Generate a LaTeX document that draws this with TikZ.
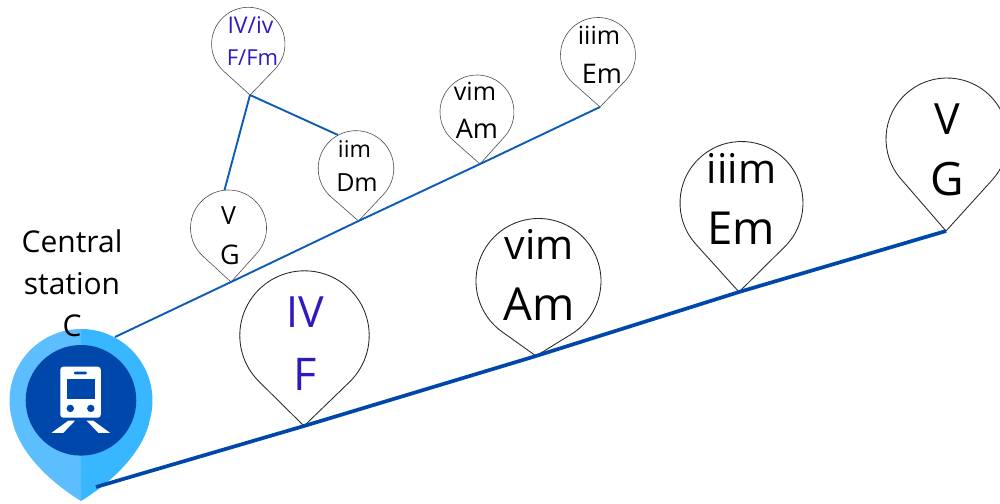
\documentclass[tikz,border=0pt]{standalone}
\usepackage{fontspec}
\setmainfont{Open Sans}
\usetikzlibrary{calc}
\definecolor{linkblue}{HTML}{0B5CB5}
\definecolor{mainblue}{HTML}{0047AB}
\definecolor{pinleft}{HTML}{5CBDFF}
\definecolor{pinright}{HTML}{38B6FF}
\definecolor{chordblue}{HTML}{2E1BC0}
\newcommand{\pinshape}[7][pinsmall]{% style, name, cx, cy, r, tipx, tipy
  \coordinate (#2c) at (#3,#4);
  \coordinate (#2t) at (#6,#7);
  \pgfmathsetmacro{\pinbase}{atan2(#7-#4,#6-#3)}
  \pgfmathsetmacro{\pinhalf}{acos(#5/sqrt((#7-#4)*(#7-#4)+(#6-#3)*(#6-#3)))}
  \pgfmathsetmacro{\pinfrom}{\pinbase+\pinhalf}
  \pgfmathsetmacro{\pinto}{\pinbase-\pinhalf+360}
  \draw[#1] (#2t) -- ($(#2c)+(\pinfrom:#5)$) arc (\pinfrom:\pinto:#5) -- cycle;
}
\newcommand{\lbl}[5][black]{% colour, name, x, baseline y, size+text
  \node[lab,text=#1] (#2) at (#3,#4) {#5};
}
\tikzset{
  pinsmall/.style={draw=black!70,line width=0.6pt},
  pinbig/.style={draw=black!85,line width=0.85pt},
  lab/.style={anchor=base,inner sep=0pt,outer sep=0pt},
  thinlink/.style={draw=linkblue,line width=1.9pt},
  thicklink/.style={draw=mainblue,line width=3.7pt},
}
\newcommand{\sizetxt}[1]{\fontsize{#1}{#1}\selectfont}
\begin{document}
\begin{tikzpicture}[x=1pt,y=-1pt]
\useasboundingbox (0,0) rectangle (1000,503);
% pins
\pinshape{a}{248.3}{44}{36.7}{250}{95}
\pinshape{b}{228.5}{228}{38}{231}{282}
\pinshape{d}{356}{168.5}{37.8}{358.5}{221}
\pinshape{e}{477}{112}{37}{480}{164}
\pinshape{f}{598}{55}{37.5}{600}{107}
\pinshape[pinbig]{g}{304.5}{335.5}{64.7}{304}{426}
\pinshape[pinbig]{h}{538.5}{281}{62.5}{536}{356}
\pinshape[pinbig]{i}{741.5}{203}{61.5}{739}{292}
\pinshape[pinbig]{j}{947}{139}{61}{946}{231}
% connector anchors
\coordinate (startthin) at (115,337);
\coordinate (startthick) at (96,487);
\coordinate (bentry) at (224.5,190);
\coordinate (dentry) at (338,135);
% connectors
\draw[thinlink] (startthin) -- (bt) -- (dt) -- (et) -- (ft);
\draw[thinlink] (at) -- (bentry);
\draw[thinlink] (at) -- (dentry);
% marker
\coordinate (mc) at (81,400.5);
\coordinate (mt) at (81,501);
\fill[pinleft] (mt) .. controls (42,477) and (17,446) .. ($(mc)+(164.1:71.5)$) arc (164.1:270:71.5) -- cycle;
\fill[pinright] (mt) .. controls (120,477) and (145,446) .. ($(mc)+(15.9:71.5)$) arc (15.9:-90:71.5) -- cycle;
\fill[mainblue] (81,400.3) circle (55.3);
\fill[white,rounded corners=3pt] (60.3,366.7) rectangle (100.8,417.7);
\fill[mainblue,rounded corners=1pt] (74,371.7) rectangle (86.8,374.4);
\fill[mainblue] (66.7,379.3) rectangle (95,399.3);
\fill[mainblue] (70.3,408.4) circle (3.7);
\fill[mainblue] (90.8,408.4) circle (3.7);
\fill[white] (51.5,432.8) -- (63.3,432.8) -- (75,420.7) -- (68.3,420.7) -- cycle;
\fill[white] (110,432.8) -- (98.3,432.8) -- (86.7,420.7) -- (93.3,420.7) -- cycle;
% main line, over the marker
\draw[thicklink] (startthick) -- (gt) -- (ht) -- (it) -- (jt);
% labels
\lbl[chordblue]{t1}{250.5}{33.3}{\sizetxt{23}IV/iv}
\lbl[chordblue]{t2}{252.5}{65}{\sizetxt{22}F/Fm}
\lbl{t3}{228.5}{224}{\sizetxt{25}V}
\lbl{t4}{230}{264}{\sizetxt{27}G}
\lbl{t5}{354.5}{157}{\sizetxt{23}iim}
\lbl{t6}{357}{191}{\sizetxt{25}Dm}
\lbl{t7}{475}{100}{\sizetxt{25}vim}
\lbl{t8}{477}{138}{\sizetxt{27}Am}
\lbl{t9}{599}{45}{\sizetxt{25}iiim}
\lbl{t10}{602}{83}{\sizetxt{27}Em}
\lbl[chordblue]{t11}{305.5}{327}{\sizetxt{43}IV}
\lbl[chordblue]{t12}{305}{390}{\sizetxt{45}F}
\lbl{t13}{539}{259}{\sizetxt{41}vim}
\lbl{t14}{539.5}{320}{\sizetxt{45.5}Am}
\lbl{t15}{741.5}{183}{\sizetxt{41}iiim}
\lbl{t16}{741}{244.5}{\sizetxt{45.5}Em}
\lbl{t17}{947}{134}{\sizetxt{43}V}
\lbl{t18}{947.5}{195.5}{\sizetxt{46}G}
\lbl{s1}{72}{252}{\sizetxt{30}Central}
\lbl{s2}{72}{294}{\sizetxt{30}station}
\lbl{s3}{72}{336}{\sizetxt{30}C}
\end{tikzpicture}
\end{document}
